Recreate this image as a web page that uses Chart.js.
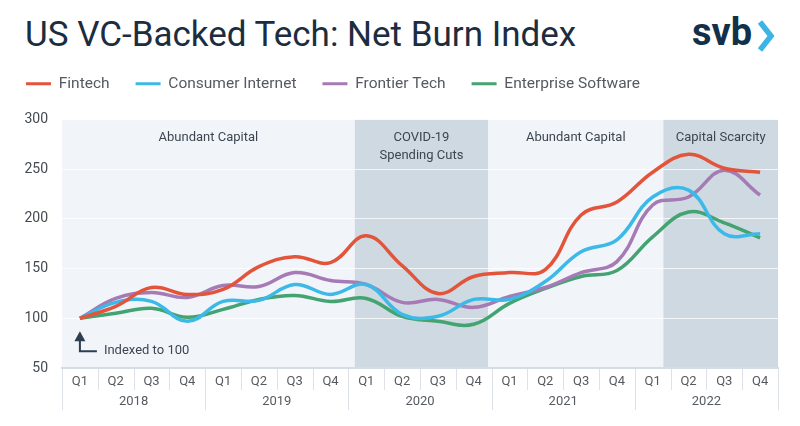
<!DOCTYPE html>
<html>
<head>
<meta charset="utf-8">
<script src="https://cdn.jsdelivr.net/npm/chart.js@4.4.1/dist/chart.umd.min.js"></script>
<style>
  html, body { margin: 0; padding: 0; background: #ffffff; }
  body { width: 800px; height: 426px; position: relative; overflow: hidden; font-family: Roboto, "Noto Sans", sans-serif; }
  #title { position: absolute; left: 25px; top: 14px; margin: 0; font-size: 35px; font-weight: 400; color: #1b2d3f; letter-spacing: 0px; white-space: nowrap; }
  #logo { position: absolute; left: 692px; top: 10px; font-size: 38px; font-weight: 700; color: #12304a; letter-spacing: 0px; }
  #chev { position: absolute; left: 757px; top: 20px; }
  #wrap { position: absolute; left: 0; top: 0; width: 800px; height: 426px; }
</style>
</head>
<body>
<h1 id="title">US VC-Backed Tech: Net Burn Index</h1>
<div id="logo">svb</div>
<svg id="chev" width="18" height="32" viewBox="0 0 18 32"><polyline points="3,2 14,16 3,30" fill="none" stroke="#3cb4e5" stroke-width="5.5" stroke-linejoin="miter"/></svg>
<div id="wrap"><canvas id="c"></canvas></div>
<script>
const quarters = ['Q1','Q2','Q3','Q4','Q1','Q2','Q3','Q4','Q1','Q2','Q3','Q4','Q1','Q2','Q3','Q4','Q1','Q2','Q3','Q4'];
const years = ['2018','2019','2020','2021','2022'];
const fintech    = [100,112,131,124,129,152,162,156,183,153,125,142,146,149,204,217,247,265,251,247];
const consumer   = [100,116,117, 97,117,118,134,124,134,104,102,119,119,137,167,179,222,229,185,185];
const frontier   = [100,120,126,121,133,132,146,138,134,116,119,111,122,131,146,157,214,222,249,224];
const enterprise = [100,105,110,101,109,119,123,117,120,102, 97, 94,115,130,142,148,182,207,196,181];
const seriesNames = ['Fintech','Consumer Internet','Frontier Tech','Enterprise Software'];
const seriesColors = ['#e2553b','#3cb9e6','#a57ab5','#43a471'];
const yTicks = [50,100,150,200,250,300];
// periods: [startIndex, endIndex, label lines, shaded]
const periods = [
  [-0.5, 7.68, ['Abundant Capital'], false],
  [7.68, 11.4, ['COVID-19','Spending Cuts'], true],
  [11.4, 16.3, ['Abundant Capital'], false],
  [16.3, 19.5, ['Capital Scarcity'], true]
];
const FONT = 'Roboto, "Noto Sans", sans-serif';

const bgPlugin = {
  id: 'bg',
  beforeDraw(chart) {
    const {ctx, chartArea: a, scales: {x}} = chart;
    ctx.save();
    ctx.fillStyle = '#f1f5fa';
    ctx.fillRect(a.left, a.top, a.right - a.left, a.bottom - a.top);
    periods.forEach(p => {
      const x0 = Math.max(a.left, x.getPixelForValue(p[0]));
      const x1 = Math.min(a.right, x.getPixelForValue(p[1]));
      if (p[3]) { ctx.fillStyle = '#cfd9e2'; ctx.fillRect(x0, a.top, x1 - x0, a.bottom - a.top); }
      ctx.fillStyle = '#3d4650';
      ctx.font = '13px ' + FONT;
      ctx.textAlign = 'center';
      ctx.textBaseline = 'middle';
      p[2].forEach((t, i) => ctx.fillText(t, (x0 + x1) / 2, a.top + 18 + i * 18));
    });
    ctx.restore();
  },
  afterDraw(chart) {
    const {ctx, chartArea: a, scales: {x, x2}} = chart;
    ctx.save();
    ctx.strokeStyle = '#dde2e8';
    ctx.lineWidth = 1;
    for (let i = 0; i <= quarters.length; i++) {
      const px = Math.round(x.getPixelForValue(i - 0.5)) + 0.5;
      const bottom = (i % 4 === 0) ? x2.bottom : x.bottom;
      ctx.beginPath(); ctx.moveTo(px, a.bottom + 1); ctx.lineTo(px, bottom); ctx.stroke();
    }
    const y = chart.scales.y;
    const ax = x.getPixelForValue(0);
    const top = y.getPixelForValue(100) + 13;
    const bot = y.getPixelForValue(100) + 33;
    ctx.strokeStyle = '#2c3e50';
    ctx.fillStyle = '#2c3e50';
    ctx.lineWidth = 2;
    ctx.beginPath(); ctx.moveTo(ax, top + 8); ctx.lineTo(ax, bot); ctx.lineTo(ax + 17, bot); ctx.stroke();
    ctx.beginPath(); ctx.moveTo(ax, top); ctx.lineTo(ax - 5.5, top + 10); ctx.lineTo(ax + 5.5, top + 10); ctx.closePath(); ctx.fill();
    ctx.fillStyle = '#3d4650';
    ctx.font = '13px ' + FONT;
    ctx.textAlign = 'left';
    ctx.textBaseline = 'middle';
    ctx.fillText('Indexed to 100', ax + 24, bot - 1);
    ctx.restore();
  }
};

const datasets = [fintech, consumer, frontier, enterprise].map((d, i) => ({
  label: seriesNames[i],
  data: d,
  borderColor: seriesColors[i],
  backgroundColor: seriesColors[i],
  borderWidth: 3.5,
  pointRadius: 0,
  tension: 0.4,
  fill: false,
  order: i
}));

const chart = new Chart(document.getElementById('c'), {
  type: 'line',
  data: { labels: quarters, datasets },
  plugins: [bgPlugin],
  options: {
    responsive: true,
    maintainAspectRatio: false,
    animation: false,
    layout: { padding: { left: 0, right: 22, top: 50, bottom: 16 } },
    plugins: {
      tooltip: { enabled: false },
      legend: {
        position: 'top',
        align: 'start',
        labels: {
          font: { family: FONT, size: 15.5 },
          color: '#555a60',
          boxWidth: 25,
          boxHeight: 3,
          padding: 26,
          generateLabels(chart) {
            return chart.data.datasets.map((ds, i) => ({
              text: ds.label, fillStyle: ds.borderColor, strokeStyle: ds.borderColor,
              lineWidth: 0, hidden: false, datasetIndex: i, fontColor: '#555a60'
            }));
          }
        }
      }
    },
    scales: {
      x: {
        type: 'category',
        offset: true,
        grid: { display: false, drawTicks: false },
        border: { display: true, color: '#d5dce4', width: 2 },
        ticks: { font: { family: FONT, size: 13 }, color: '#555a60', padding: 6, maxRotation: 0, autoSkip: false },
        afterFit(s) { s.height = 22; }
      },
      x2: {
        type: 'category',
        position: 'bottom',
        labels: years,
        offset: true,
        grid: { display: false, drawTicks: false },
        border: { display: false },
        ticks: { font: { family: FONT, size: 13 }, color: '#555a60', padding: 4, maxRotation: 0, autoSkip: false },
        afterFit(s) { s.height = 20; }
      },
      y: {
        min: 50, max: 300,
        afterBuildTicks(s) { s.ticks = yTicks.map(v => ({ value: v })); },
        grid: { color: 'rgba(255,255,255,0.75)', lineWidth: 1, drawTicks: false },
        border: { display: false },
        ticks: { font: { family: FONT, size: 14 }, color: '#444a50', padding: 14 },
        afterFit(s) { s.width = 62; }
      }
    }
  }
});
const origFit = chart.legend.fit;
chart.legend.fit = function () { origFit.call(this); this.height += 18; };
chart.update();
</script>
</body>
</html>
